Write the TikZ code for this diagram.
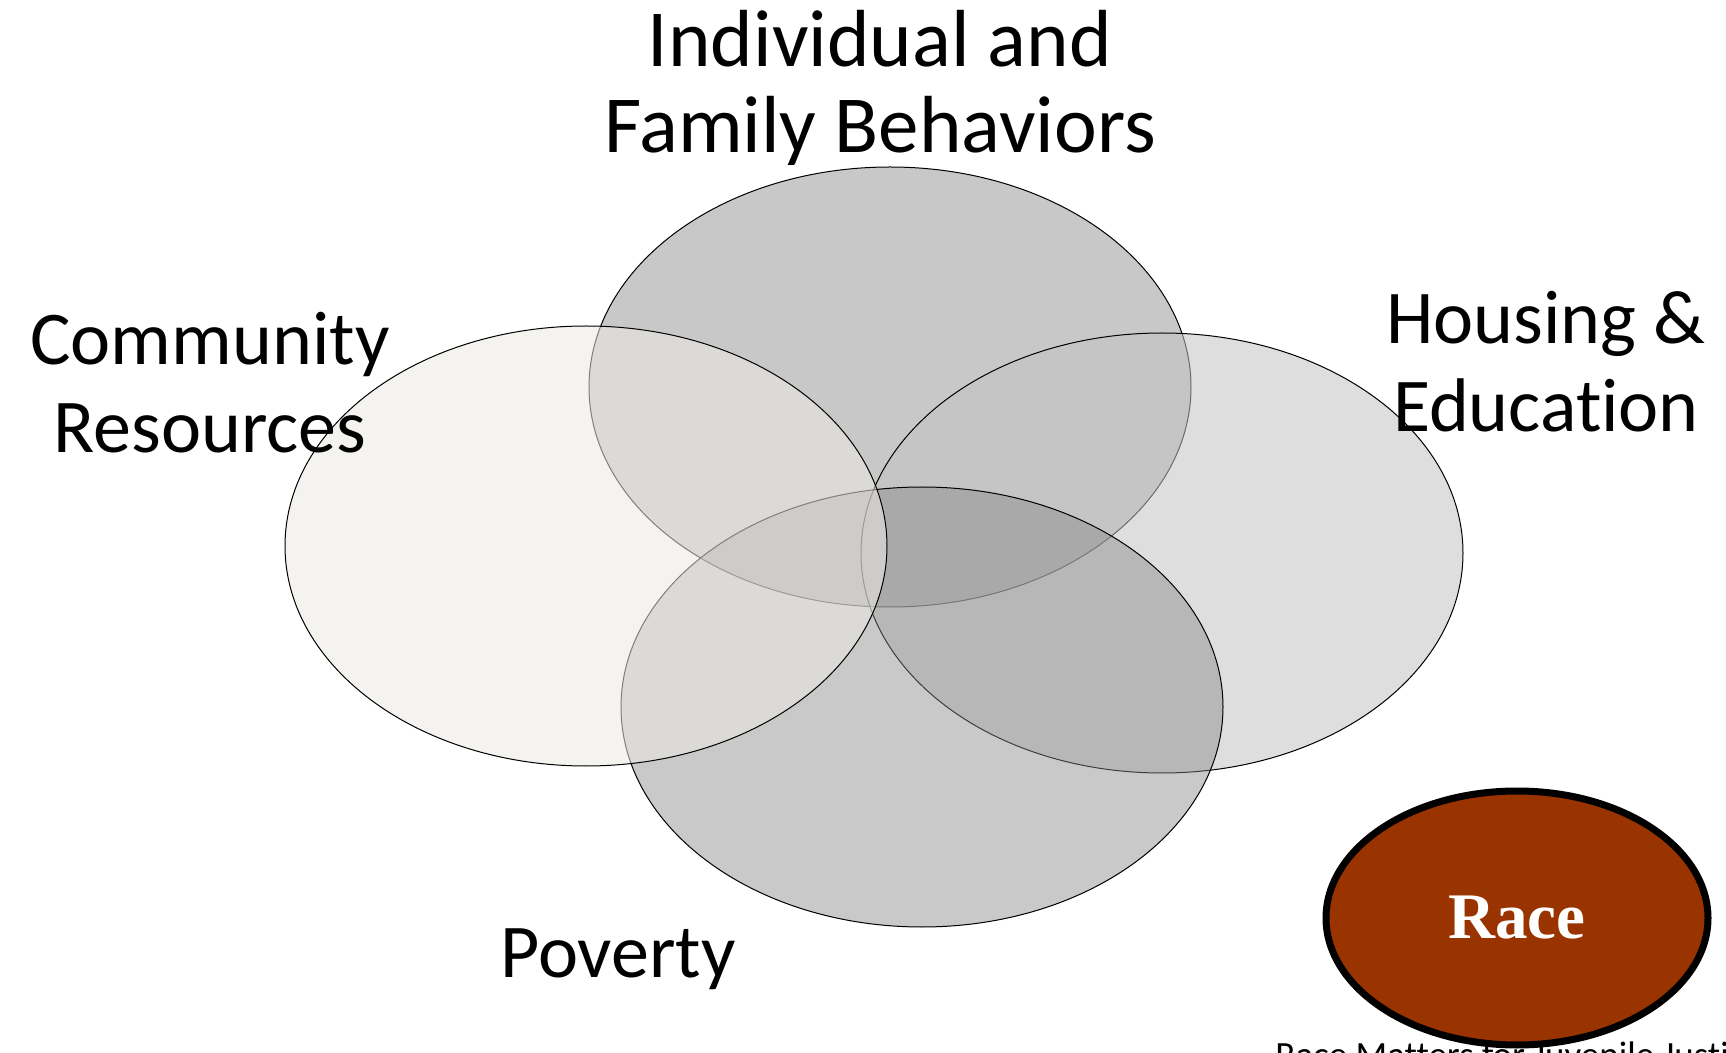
\documentclass[tikz,border=0pt]{standalone}
\usepackage{fontspec}
\setmainfont[Ligatures=NoCommon]{Carlito}
\newfontfamily\racefont{Liberation Serif}
\usetikzlibrary{shapes.geometric}

\definecolor{familygray}{RGB}{154,154,154}
\definecolor{housinggray}{RGB}{195,195,195}
\definecolor{povertygray}{RGB}{136,136,136}
\definecolor{communitytan}{RGB}{235,233,226}
\definecolor{racebrown}{RGB}{153,51,0}

\begin{document}
\begin{tikzpicture}[
    x=0.5pt,
    y=-0.5pt,
    line join=round,
    venn/.style={draw=black, line width=0.5pt},
    topic/.style={align=center, inner sep=0pt, anchor=base,
      font=\fontsize{38}{44}\selectfont},
    racebox/.style={ellipse, draw=black, line width=3.5pt, fill=racebrown,
      minimum width=191pt, minimum height=127pt, inner sep=0pt,
      text=white, font=\racefont\bfseries\fontsize{32.5}{36}\selectfont}
  ]
  \useasboundingbox (0,0) rectangle (1726,1053);

  % the four sets, back to front
  \filldraw[venn, fill=familygray, fill opacity=.545]
    (890,387) ellipse [x radius=301, y radius=220];
  \filldraw[venn, fill=housinggray, fill opacity=.545]
    (1162,553) ellipse [x radius=301, y radius=220];
  \filldraw[venn, fill=povertygray, fill opacity=.455]
    (922,707) ellipse [x radius=301, y radius=220];
  \filldraw[venn, fill=communitytan, fill opacity=.545]
    (586,546) ellipse [x radius=301, y radius=220];

  % base = last line
  \node[topic, font=\fontsize{40.5}{43}\selectfont] (family) at (880,153)
    {Individual and\\Family Behaviors};
  \node[topic] (community) at (210,453) {Community\\Resources};
  \node[topic] (housing) at (1546,432) {Housing \&\\Education};
  \node[topic] (poverty) at (618,977) {Poverty};

  \node[anchor=base west, inner sep=0pt, font=\fontsize{18.5}{22}\selectfont]
    (source) at (1275,1067) {Race Matters for Juvenile Justice};
  \node[racebox] (race) at (1517,918) {Race};
\end{tikzpicture}
\end{document}
